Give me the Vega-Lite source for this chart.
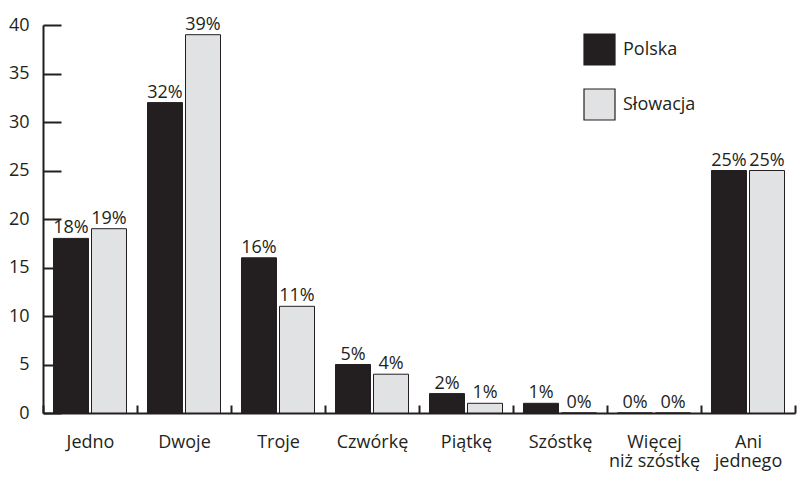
{
  "$schema": "https://vega.github.io/schema/vega-lite/v6.json",
  "width": 752,
  "height": 388,
  "autosize": "none",
  "padding": {"left": 43, "top": 25, "right": 3, "bottom": 65},
  "background": "white",
  "config": {
    "view": {"stroke": null},
    "font": "Open Sans",
    "axis": {"labelFont": "Open Sans", "labelFontSize": 18, "labelColor": "#231f20", "domainColor": "#231f20", "tickColor": "#231f20", "grid": false, "title": null}
  },
  "data": {
    "values": [
      {"kat": "Jedno", "kraj": "Polska", "v": 18, "t": "18%"},
      {"kat": "Jedno", "kraj": "Słowacja", "v": 19, "t": "19%"},
      {"kat": "Dwoje", "kraj": "Polska", "v": 32, "t": "32%"},
      {"kat": "Dwoje", "kraj": "Słowacja", "v": 39, "t": "39%"},
      {"kat": "Troje", "kraj": "Polska", "v": 16, "t": "16%"},
      {"kat": "Troje", "kraj": "Słowacja", "v": 11, "t": "11%"},
      {"kat": "Czwórkę", "kraj": "Polska", "v": 5, "t": "5%"},
      {"kat": "Czwórkę", "kraj": "Słowacja", "v": 4, "t": "4%"},
      {"kat": "Piątkę", "kraj": "Polska", "v": 2, "t": "2%"},
      {"kat": "Piątkę", "kraj": "Słowacja", "v": 1, "t": "1%"},
      {"kat": "Szóstkę", "kraj": "Polska", "v": 1, "t": "1%"},
      {"kat": "Szóstkę", "kraj": "Słowacja", "v": 0, "t": "0%"},
      {"kat": "Więcej|niż szóstkę", "kraj": "Polska", "v": 0, "t": "0%"},
      {"kat": "Więcej|niż szóstkę", "kraj": "Słowacja", "v": 0, "t": "0%"},
      {"kat": "Ani|jednego", "kraj": "Polska", "v": 25, "t": "25%"},
      {"kat": "Ani|jednego", "kraj": "Słowacja", "v": 25, "t": "25%"}
    ]
  },
  "encoding": {
    "x": {
      "field": "kat", "type": "nominal", "sort": null,
      "scale": {"paddingInner": 0, "paddingOuter": 0},
      "axis": {"labelAngle": 0, "labelExpr": "datum.value ? split(datum.value, '|') : ''", "labelLineHeight": 19, "labelPadding": 28, "tickBand": "extent", "tickSize": -8, "tickWidth": 2, "domainWidth": 2}
    },
    "xOffset": {"field": "kraj", "type": "nominal", "scale": {"paddingInner": 0.079, "paddingOuter": 0.276}},
    "y": {
      "field": "v", "type": "quantitative",
      "scale": {"domain": [0, 40], "nice": false},
      "axis": {"values": [0, 5, 10, 15, 20, 25, 30, 35, 40], "tickSize": -18, "tickWidth": 2, "domainWidth": 2, "labelPadding": 32}
    }
  },
  "layer": [
    {
      "mark": {"type": "bar", "stroke": "#231f20", "strokeWidth": 1},
      "encoding": {
        "color": {
          "field": "kraj", "type": "nominal",
          "scale": {"domain": ["Polska", "Słowacja"], "range": ["#231f20", "#e1e2e4"]},
          "legend": {
            "title": null, "orient": "none", "legendX": 540, "legendY": 8,
            "symbolType": "square", "symbolSize": 961, "symbolStrokeColor": "#231f20", "symbolStrokeWidth": 1.2,
            "labelFontSize": 18, "labelFont": "Open Sans", "labelColor": "#231f20", "labelOffset": 7, "rowPadding": 18
          }
        }
      }
    },
    {
      "mark": {"type": "text", "baseline": "alphabetic", "dy": -5, "fontSize": 18, "color": "#231f20"},
      "encoding": {"text": {"field": "t", "type": "nominal"}}
    }
  ]
}
